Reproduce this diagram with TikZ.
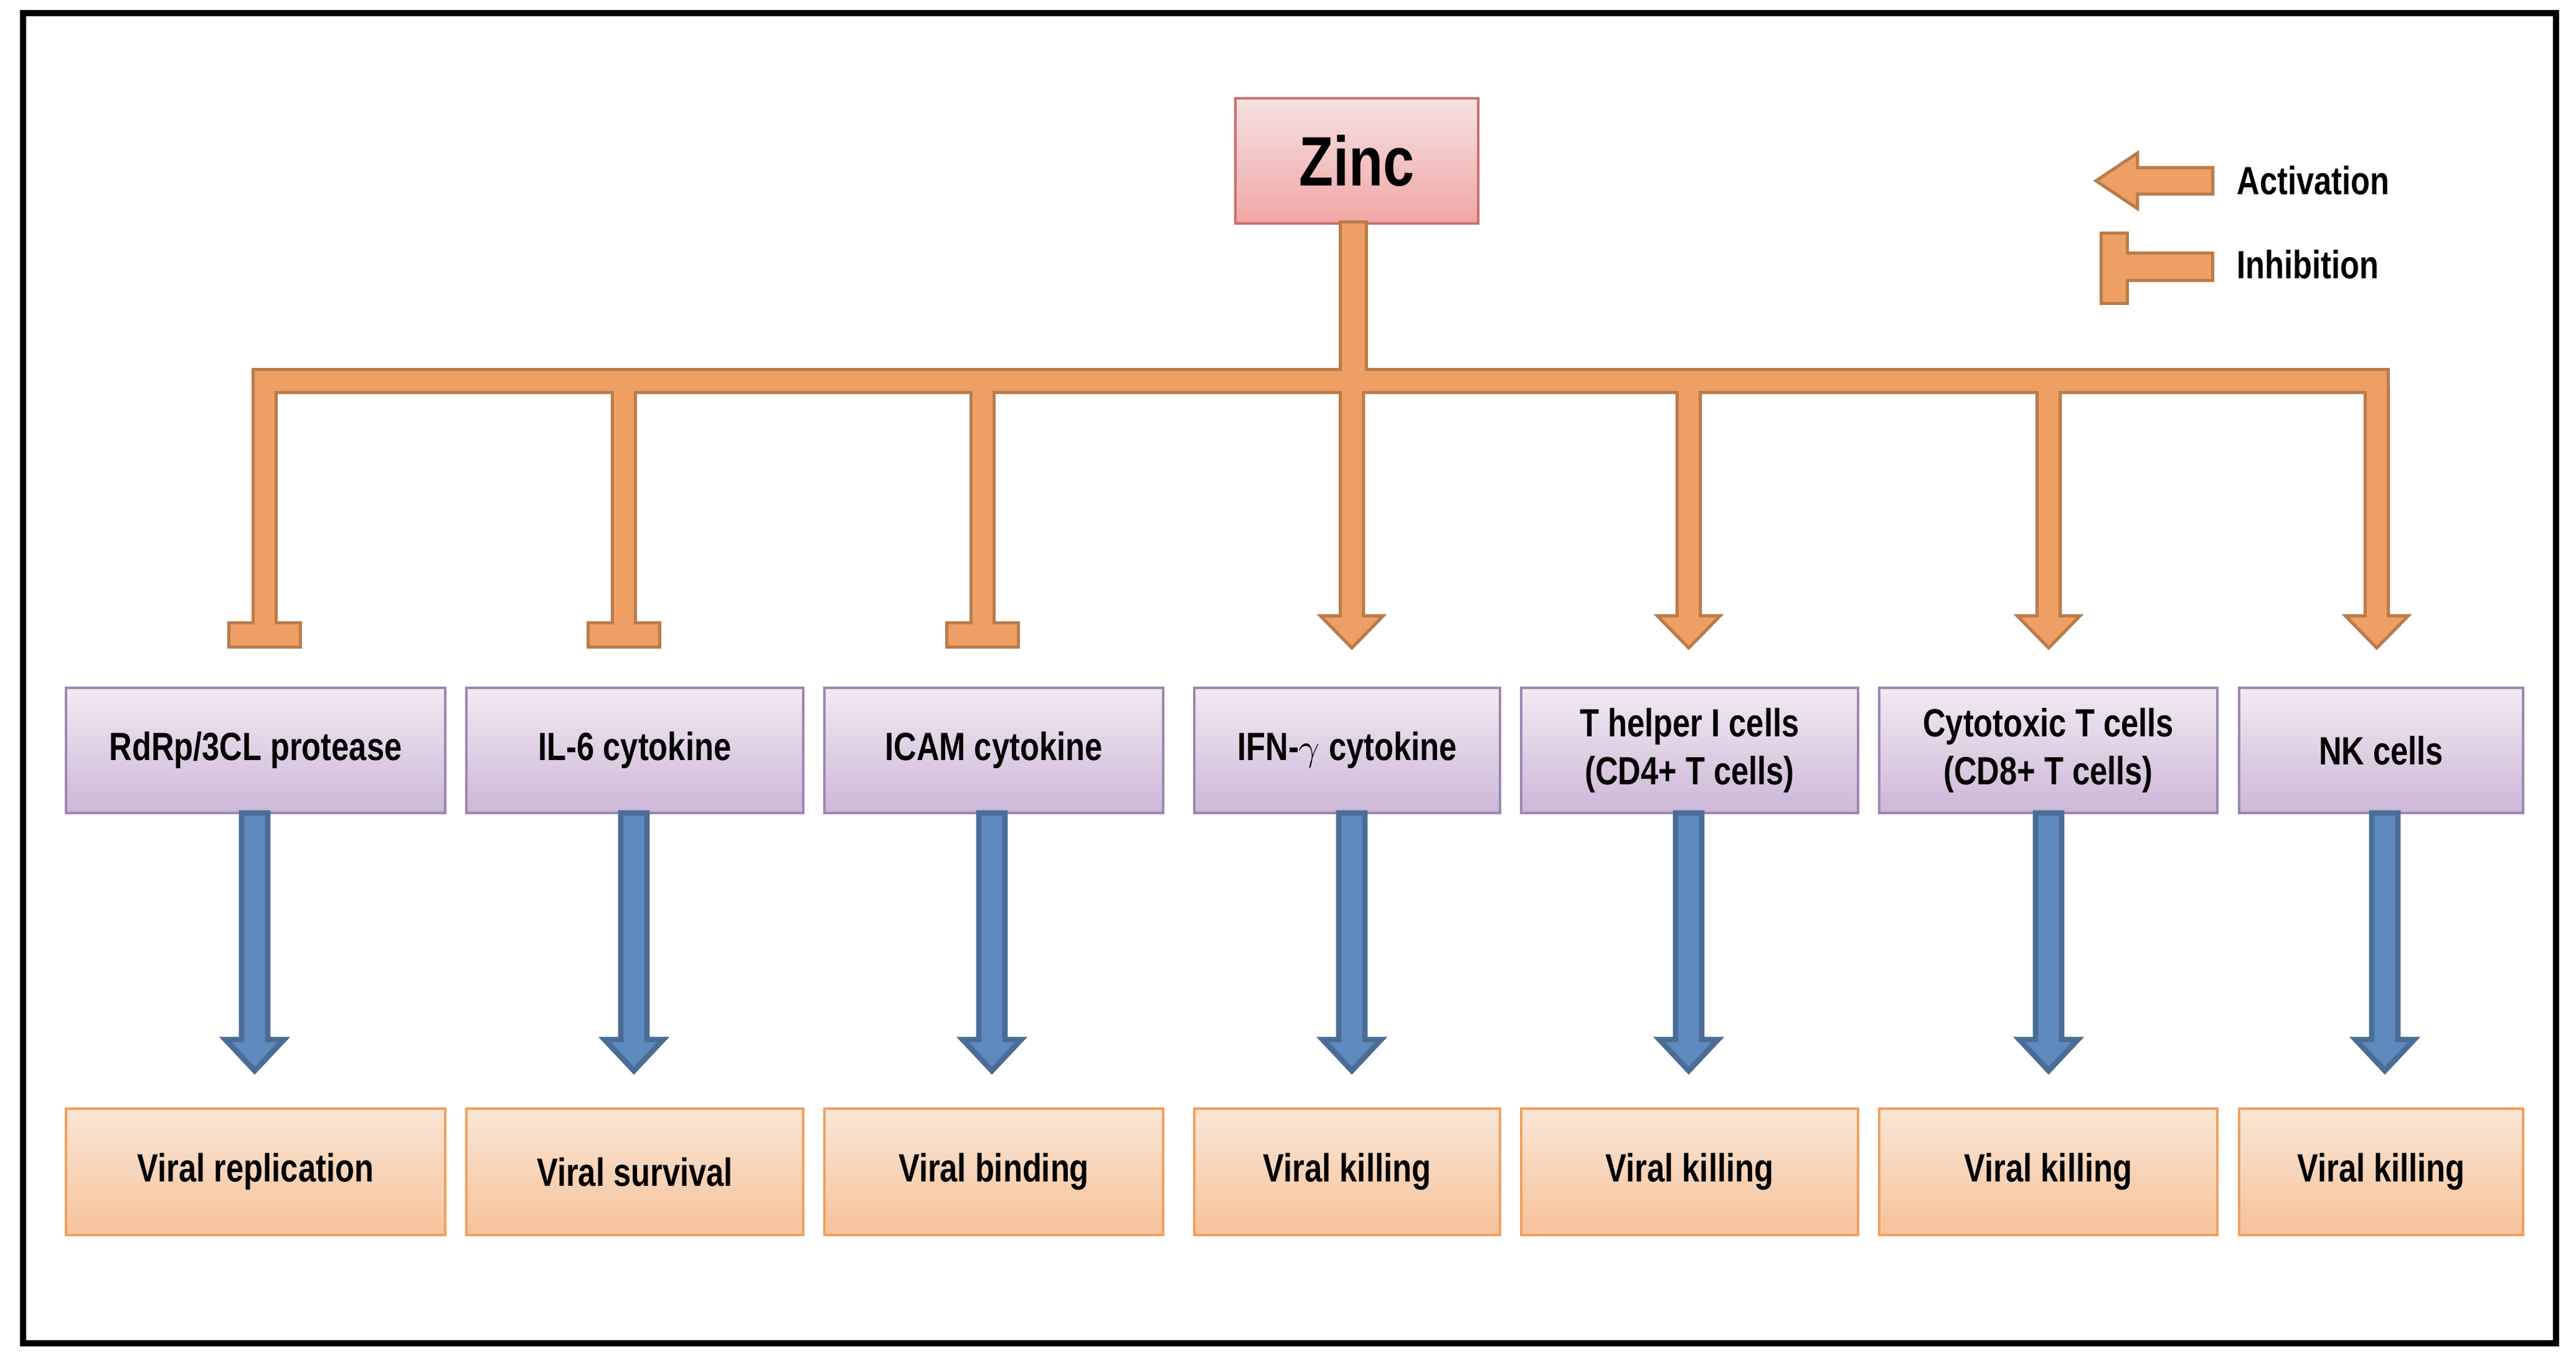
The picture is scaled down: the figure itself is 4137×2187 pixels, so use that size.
\documentclass[tikz,border=0pt]{standalone}
\usepackage{fontspec}
\setmainfont{Liberation Sans}[FakeStretch=0.8]
\definecolor{orfill}{HTML}{EE9F63}
\definecolor{orline}{HTML}{B97C4C}
\definecolor{purptop}{HTML}{F2EAF2}
\definecolor{purpbot}{HTML}{CDB7D8}
\definecolor{purpline}{HTML}{9E86B2}
\definecolor{bottop}{HTML}{F9E6D6}
\definecolor{botbot}{HTML}{F6C29A}
\definecolor{botline}{HTML}{F0A060}
\definecolor{bluefill}{HTML}{5F8ABF}
\definecolor{blueline}{HTML}{4A6D96}
\definecolor{zinctop}{HTML}{F6E2E2}
\definecolor{zincbot}{HTML}{EFA6A4}
\definecolor{zincline}{HTML}{C9706C}
\begin{document}
\begin{tikzpicture}[x=0.01cm,y=-0.01cm,
  ofill/.style={fill=orfill},
  oline/.style={draw=orline,line width=3pt,line join=miter},
  box/.style={draw,line width=1.2pt,inner sep=0pt,font=\bfseries\fontsize{18}{22}\selectfont,align=center},
  mid/.style={box,draw=purpline,top color=purptop,bottom color=purpbot},
  bot/.style={box,draw=botline,top color=bottop,bottom color=botbot},
  blue arrow/.style={fill=bluefill,draw=blueline,line width=2.5pt,line join=miter}]
\useasboundingbox (0,0) rectangle (4137,2187);
\fill[white] (0,0) rectangle (4137,2187);
\draw[line width=2.8pt] (37,21) rectangle (4105,2158);
% Zinc
\node[box,draw=zincline,top color=zinctop,bottom color=zincbot,minimum width=3.9cm,minimum height=2.01cm,font=\bfseries\fontsize{32}{36}\selectfont] (zinc) at (2179,258.5) {Zinc};
% middle boxes
\foreach \n/\l/\r/\t in {1/106/715/{RdRp/3CL protease},2/749/1290/{IL-6 cytokine},3/1324/1868/{ICAM cytokine},4/1918/2409/{IFN-$\gamma$ cytokine},5/2443/2984/{T helper I cells\\(CD4+ T cells)},6/3018/3561/{Cytotoxic T cells\\(CD8+ T cells)},7/3596/4052/{NK cells}}{
  \pgfmathsetmacro\w{(\r-\l)*0.01}
  \node[mid,minimum width=\w cm,minimum height=2.01cm] (m\n) at ({(\l+\r)/2},1205.5) {\t};
}
\foreach \n/\l/\r/\t in {1/106/715/{Viral replication},2/749/1290/{Viral survival},3/1324/1868/{Viral binding},4/1918/2409/{Viral killing},5/2443/2984/{Viral killing},6/3018/3561/{Viral killing},7/3596/4052/{Viral killing}}{
  \pgfmathsetmacro\w{(\r-\l)*0.01}
  \node[bot,minimum width=\w cm,minimum height=2.03cm] (b\n) at ({(\l+\r)/2},1882.5) {\t};
}
% blue arrows
\foreach \n/\x in {1/409,2/1018,3/1593,4/2171,5/2712,6/3290,7/3830}{
  \draw[blue arrow] (\x-21,1306) -- (\x+21,1306) -- (\x+21,1670) -- (\x+47,1670) -- (\x,1720) -- (\x-47,1670) -- (\x-21,1670) -- cycle;
}
% orange connectors: outlines then fills
\def\orangeshapes#1{
  \path[#1] (2155,359) rectangle (2192,598);
  \path[#1] (409,596) rectangle (3833,628);
  \foreach \x in {425,1002,1578}{
    \path[#1] (\x-16,626) rectangle (\x+16,1005);
    \path[#1] (\x-55,1003) rectangle (\x+55,1037);
  }
  \foreach \x in {2171,2712,3290,3817}{
    \path[#1] (\x-16,626) -- (\x+16,626) -- (\x+16,992) -- (\x+44,992) -- (\x,1037) -- (\x-44,992) -- (\x-16,992) -- cycle;
  }
  % legend
  \path[#1] (3551,272) -- (3551,309) -- (3430,309) -- (3430,330) -- (3371,290.5) -- (3430,251) -- (3430,272) -- cycle;
  \path[#1] (3412,409) rectangle (3551,448);
  \path[#1] (3377,377) rectangle (3414,485);
}
\orangeshapes{oline}
\orangeshapes{ofill}
\node[anchor=west,font=\bfseries\fontsize{18}{22}\selectfont] (act) at (3580,290) {Activation};
\node[anchor=west,font=\bfseries\fontsize{18}{22}\selectfont] (inh) at (3580,425) {Inhibition};
\end{tikzpicture}
\end{document}
